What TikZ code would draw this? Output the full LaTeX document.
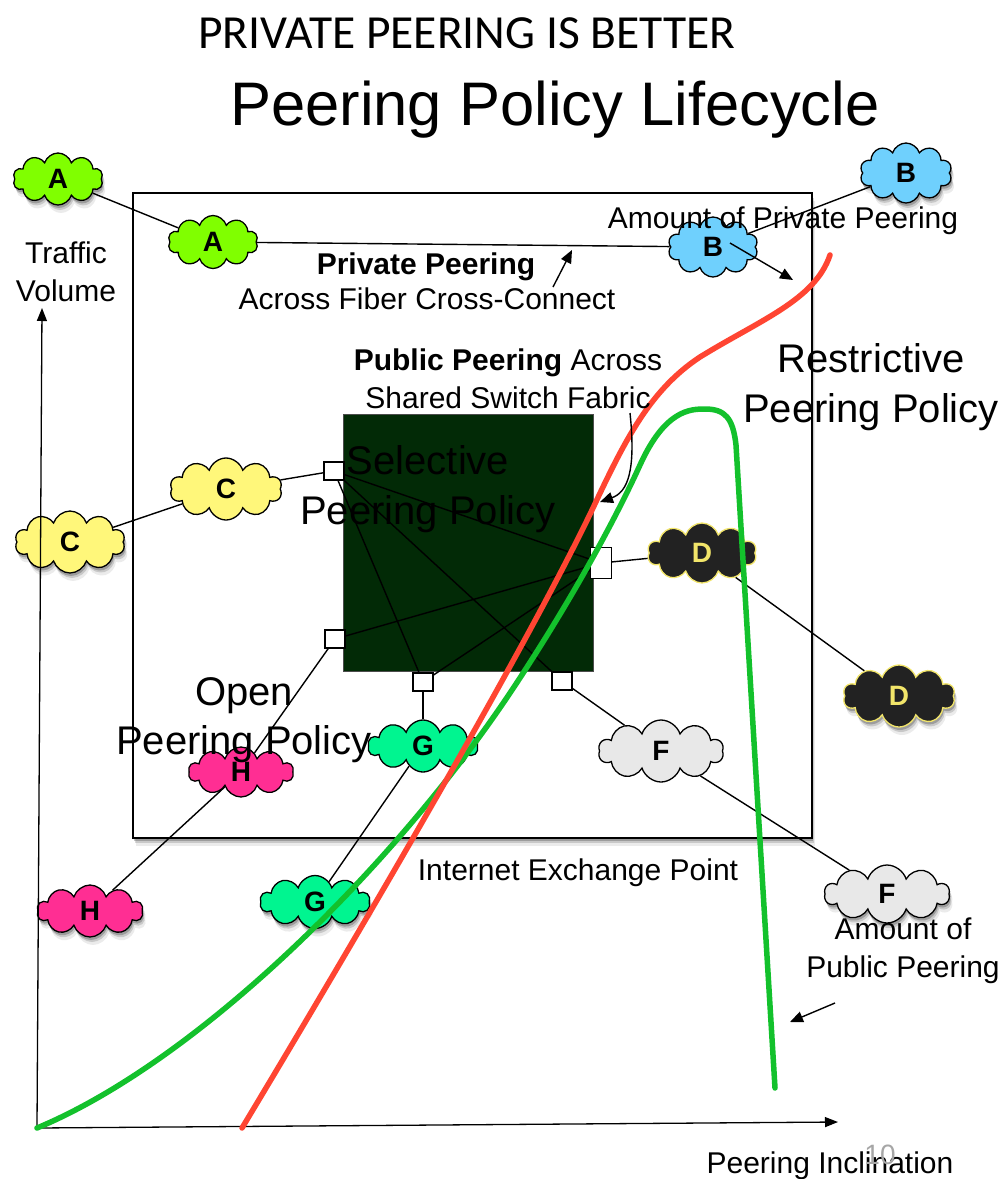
\documentclass[tikz,border=0pt]{standalone}
\usepackage{fontspec}
\setmainfont{Liberation Sans}
\setsansfont{Liberation Sans}
\newfontfamily\titlefont{Carlito}
\usetikzlibrary{shapes.symbols,shadows,arrows.meta}

\definecolor{cloudA}{HTML}{80FF00}
\definecolor{cloudB}{HTML}{6FD0FD}
\definecolor{cloudC}{HTML}{FFF77A}
\definecolor{cloudD}{HTML}{222222}
\definecolor{edgeD}{HTML}{F2E56A}
\definecolor{cloudF}{HTML}{E8E8E8}
\definecolor{cloudG}{HTML}{00F590}
\definecolor{cloudH}{HTML}{FF2E93}
\definecolor{switchgreen}{HTML}{022A06}
\definecolor{curvered}{HTML}{FF4532}
\definecolor{curvegreen}{HTML}{13C12C}

\tikzset{
  softshadow/.style={
    drop shadow={shadow xshift=1pt,shadow yshift=-3pt,opacity=0.22,fill=black},
    drop shadow={shadow xshift=2pt,shadow yshift=-5pt,opacity=0.15,fill=black},
    drop shadow={shadow xshift=3pt,shadow yshift=-8pt,opacity=0.08,fill=black}},
  conn/.style={line width=1.4pt},
  port/.style={draw, fill=white, line width=1.1pt, minimum width=20pt,
    minimum height=18pt, inner sep=0pt},
  puff/.style={cloud, cloud puffs=10, cloud puff arc=145, cloud ignores aspect,
    draw=black, line width=1.3pt, inner sep=0pt,
    font=\sffamily\bfseries\fontsize{28}{28}\selectfont},
  lbl/.style={font=\fontsize{30}{38}\selectfont, align=center, inner sep=0pt},
  biglbl/.style={font=\fontsize{40}{49.5}\selectfont, align=center, inner sep=0pt},
  tip/.style={-{Triangle[length=13pt,width=11pt]}, line width=1.4pt},
  curve/.style={line width=5.5pt, line cap=round, line join=round},
}

\begin{document}
\begin{tikzpicture}[x=1pt,y=-1pt]
\useasboundingbox (0,0) rectangle (1005,1179);

% Internet exchange point frame
\filldraw[fill=white, draw=black, line width=2pt, softshadow]
  (133,193) rectangle (812,838);

% shared switch fabric
\node[draw=black!70, line width=0.6pt, fill=switchgreen, minimum width=250pt,
  minimum height=257pt, inner sep=0pt] (fabric) at (468,542.5) {};

% switch ports
\node[port] (pTL) at (334,471) {};
\node[port] (pLB) at (335,639) {};
\node[port] (pG) at (423,682) {};
\node[port] (pF) at (562,681) {};
\node[port, minimum width=21pt, minimum height=31pt] (pD) at (601,563) {};

% networks
\node[puff, fill=cloudA, minimum width=90pt, minimum height=52pt, softshadow] (A1) at (58,179) {A};
\node[puff, fill=cloudA, minimum width=90pt, minimum height=53pt] (A2) at (213,242) {A};
\node[puff, fill=cloudB, minimum width=92pt, minimum height=60pt, softshadow] (B1) at (906,173) {B};
\node[puff, fill=cloudB, minimum width=90pt, minimum height=60pt] (B2) at (713,247) {B};
\node[puff, fill=cloudC, minimum width=112pt, minimum height=62pt] (C2) at (226,489) {C};
\node[puff, fill=cloudC, minimum width=110pt, minimum height=62pt, softshadow] (C1) at (70,542) {C};
\node[puff, fill=cloudD, draw=edgeD, text=edgeD, minimum width=109pt, minimum height=60pt] (D2) at (702,553) {D};
\node[puff, fill=cloudD, draw=edgeD, text=edgeD, minimum width=112pt, minimum height=62pt, softshadow] (D1) at (899,696) {D};
\node[puff, fill=cloudF, minimum width=125pt, minimum height=62pt] (F2) at (661,751) {F};
\node[puff, fill=cloudF, minimum width=125pt, minimum height=58pt, softshadow] (F1) at (887,894) {F};
\node[puff, fill=cloudG, minimum width=110pt, minimum height=52pt] (G2) at (423,746) {G};
\node[puff, fill=cloudG, minimum width=110pt, minimum height=53pt, softshadow] (G1) at (315,902) {G};
\node[puff, fill=cloudH, minimum width=105pt, minimum height=50pt] (H2) at (241,772) {H};
\node[puff, fill=cloudH, minimum width=106pt, minimum height=52pt, softshadow] (H1) at (90,911) {H};

% links
\draw[conn] (A1) -- (A2);
\draw[conn] (A2) -- (B2);
\draw[conn] (B2) -- (B1);
\draw[conn] (C1) -- (C2);
\draw[conn] (C2) -- (pTL);
\draw[conn] (pD) -- (D2);
\draw[conn] (D2) -- (D1);
\draw[conn] (pF) -- (F2);
\draw[conn] (F2) -- (F1);
\draw[conn] (pG) -- (G2);
\draw[conn] (G2) -- (G1);
\draw[conn] (pLB) -- (H2);
\draw[conn] (H2) -- (H1);
% paths across the fabric
\draw[conn] (pTL) -- (pD);
\draw[conn] (pTL) -- (pG);
\draw[conn] (pTL) -- (pF);
\draw[conn] (pLB) -- (pD);
\draw[conn] (pG) -- (pD);

% axes
\coordinate (origin) at (37,1128);
\coordinate (ytip) at (42,308);
\coordinate (xtip) at (838,1122);
\draw[line width=1.3pt, -{Triangle[length=13pt,width=10pt]}] (origin) -- (ytip);
\draw[line width=1.3pt, -{Triangle[length=13pt,width=10pt]}] (origin) -- (xtip);

% policy curves
\draw[curve, curvegreen] (37,1128)
  .. controls (200,1060) and (395,865) .. (510,693)
  .. controls (570,603) and (615,520) .. (640,465)
  .. controls (665,410) and (690,409) .. (705,409)
  .. controls (725,409) and (733,418) .. (736,445)
  -- (775,1088);
\draw[curve, curvered] (242,1128)
  .. controls (358,935) and (525,650) .. (593,508)
  .. controls (625,440) and (650,390) .. (700,357)
  .. controls (760,320) and (815,300) .. (830,255);

% annotation arrows
\coordinate (privA) at (553,287);
\coordinate (privB) at (572,250);
\draw[tip] (privA) -- (privB);
\coordinate (amtA) at (730,243);
\coordinate (amtB) at (793,280);
\draw[tip] (amtA) -- (amtB);
\coordinate (fabA) at (630,413);
\coordinate (fabB) at (600,502);
\draw[tip] (fabA) .. controls (636,470) and (628,492) .. (fabB);
\coordinate (pubA) at (835,1003);
\coordinate (pubB) at (790,1022);
\draw[tip] (pubA) -- (pubB);

% headings
\node[anchor=base, inner sep=0pt, font=\titlefont\fontsize{47.5}{50}\selectfont]
  (head) at (467,48) {PRIVATE PEERING IS BETTER};
\node[anchor=base, inner sep=0pt, font=\fontsize{61.5}{64}\selectfont]
  (title) at (555,125) {Peering Policy Lifecycle};

% labels
\node[lbl] (tv) at (66,271.5) {Traffic\\Volume};
\node[lbl, anchor=base] (priv) at (426,274) {\bfseries Private Peering};
\node[lbl, anchor=base] (fiber) at (427,309) {Across Fiber Cross-Connect};
\node[lbl] (pub) at (508,378.5) {{\bfseries Public Peering} Across\\Shared Switch Fabric};
\node[lbl, anchor=base] (amtpriv) at (783,228) {Amount of Private Peering};
\node[lbl, anchor=base] (ixp) at (578,880) {Internet Exchange Point};
\node[lbl] (amtpub) at (903,951) {Amount of\\Public Peering};
\node[lbl, anchor=base] (incl) at (830,1173) {Peering Inclination};
\node[anchor=base, inner sep=0pt, text=black!35, font=\fontsize{28}{28}\selectfont]
  (pg) at (880,1164) {10};

\node[biglbl] (sel) at (428,489) {Selective\\Peering Policy};
\node[biglbl] (res) at (871,387) {Restrictive\\Peering Policy};
\node[biglbl] (open) at (244,720) {Open\\Peering Policy};
\end{tikzpicture}
\end{document}
